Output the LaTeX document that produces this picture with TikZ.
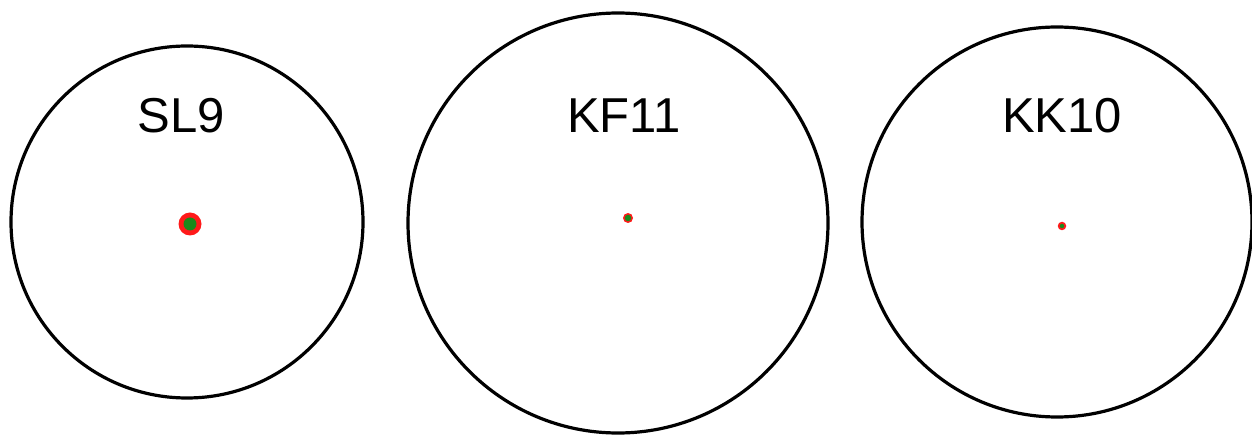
\documentclass[tikz,border=0pt]{standalone}
\usepackage{fontspec}
\setmainfont{Liberation Sans}
\usepackage{tikz}
\usetikzlibrary{positioning}
\definecolor{dotred}{HTML}{FF1A1A}
\definecolor{dotgreen}{HTML}{1A8A1A}

\begin{document}
\begin{tikzpicture}[x=1pt, y=1pt,
    orbit/.style={circle, draw=black, line width=3.2pt, minimum size=#1, inner sep=0pt},
    halo/.style={circle, fill=dotred, minimum size=#1, inner sep=0pt},
    core/.style={circle, fill=dotgreen, minimum size=#1, inner sep=0pt},
    cometlabel/.style={font=\fontsize{49}{59}\selectfont}
]
\useasboundingbox (0,0) rectangle (1252,436);

% three comets
\node[orbit=352pt] (sl) at (187,214) {};
\node[orbit=420pt] (kf) at (618,213) {};
\node[orbit=390pt] (kk) at (1057,214) {};

\node[cometlabel] (slname) at (181,320) {SL9};
\node[cometlabel] (kfname) at (624,320) {KF11};
\node[cometlabel] (kkname) at (1062,320) {KK10};

% central dots
\node[halo=23pt] (slhalo) at (190,212) {};
\node[core=13pt] (slcore) at (190,212) {};
\node[halo=10pt] (kfhalo) at (628,218) {};
\node[core=6.5pt] (kfcore) at (628,218) {};
\node[halo=8.5pt] (kkhalo) at (1062,210) {};
\node[core=4.5pt] (kkcore) at (1062,210) {};
\end{tikzpicture}
\end{document}
